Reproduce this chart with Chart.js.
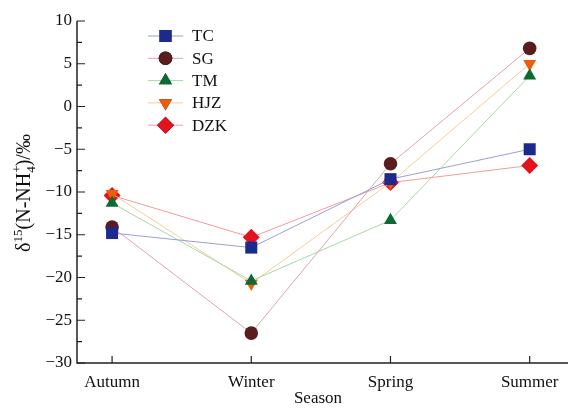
<!DOCTYPE html>
<html>
<head>
<meta charset="utf-8">
<script src="https://cdn.jsdelivr.net/npm/chart.js@4.4.0/dist/chart.umd.min.js"></script>
<style>
  html, body { margin: 0; padding: 0; background: #fff; overflow: hidden; }
  canvas { display: block; }
</style>
</head>
<body>
<canvas id="grafico" width="568" height="409"></canvas>
<script>
const estacoes = ["Autumn", "Winter", "Spring", "Summer"];
const serieTC = [-14.8, -16.5, -8.5, -5.0];
const serieSG = [-14.1, -26.5, -6.7, 6.8];
const serieTM = [-11.3, -20.4, -13.3, 3.6];
const serieHJZ = [-10.2, -20.7, -8.9, 5.0];
const serieDZK = [-10.4, -15.3, -8.9, -6.9];
const ticksY = [-30, -25, -20, -15, -10, -5, 0, 5, 10];

const FONTE = "Liberation Serif";

function serie(nome, valores, corLinha, corPonto, estilo, raio, rot) {
  return {
    label: nome,
    data: valores.map((v, i) => ({ x: i, y: v })),
    borderColor: corLinha,
    borderWidth: 1,
    backgroundColor: corPonto,
    pointBackgroundColor: corPonto,
    pointBorderColor: corPonto,
    pointBorderWidth: 0,
    pointStyle: estilo,
    pointRadius: raio,
    pointRotation: rot || 0,
    tension: 0
  };
}

const datasets = [
  serie("TC", serieTC, "#9a9ed6", "#1c2a8e", "rect", 8.5),
  serie("SG", serieSG, "#d9a6ae", "#5a1c1e", "circle", 6.8),
  serie("TM", serieTM, "#a6d8a8", "#0b6b32", "triangle", 7.5),
  serie("HJZ", serieHJZ, "#f8cc98", "#ee5c0e", "triangle", 7.5, 180),
  serie("DZK", serieDZK, "#f29aa0", "#e4121c", "rectRot", 8.5)
];

// eixos, ticks internos e legenda desenhados à mão
const eixosPlugin = {
  id: "eixos",
  afterDatasetsDraw(chart) {
    const ctx = chart.ctx;
    const xs = chart.scales.x, ys = chart.scales.y;
    const a = chart.chartArea;
    ctx.save();
    ctx.strokeStyle = "#222";
    ctx.lineWidth = 1.5;
    ctx.beginPath();
    ctx.moveTo(a.left, a.top);
    ctx.lineTo(a.left, a.bottom);
    ctx.lineTo(chart.width, a.bottom);
    ctx.stroke();
    ctx.lineWidth = 1.2;
    ctx.beginPath();
    for (let v = -30; v <= 10; v += 2.5) {
      const y = ys.getPixelForValue(v);
      const len = (v % 5 === 0) ? 8 : 5;
      ctx.moveTo(a.left, y);
      ctx.lineTo(a.left + len, y);
    }
    estacoes.forEach((_, i) => {
      const x = xs.getPixelForValue(i);
      ctx.moveTo(x, a.bottom);
      ctx.lineTo(x, a.bottom - 7);
    });
    ctx.stroke();

    // legenda
    let ly = 36;
    chart.data.datasets.forEach((ds) => {
      ctx.strokeStyle = ds.borderColor;
      ctx.lineWidth = 1;
      ctx.beginPath();
      ctx.moveTo(148, ly);
      ctx.lineTo(183, ly);
      ctx.stroke();
      Chart.helpers.drawPoint(ctx, {
        pointStyle: ds.pointStyle,
        rotation: ds.pointRotation,
        radius: ds.pointRadius,
        borderWidth: 0
      }, 165.5, ly);
      ctx.fillStyle = ds.pointBackgroundColor;
      ctx.fill();
      ctx.fillStyle = "#111";
      ctx.font = "17px '" + FONTE + "'";
      ctx.textBaseline = "middle";
      ctx.textAlign = "left";
      ctx.fillText(ds.label, 192, ly + 1);
      ly += 22.3;
    });

    // titulo do eixo y: δ15(N-NH4+)/‰
    ctx.translate(30, 193);
    ctx.rotate(-Math.PI / 2);
    ctx.fillStyle = "#111";
    ctx.textBaseline = "alphabetic";
    const partes = [
      ["δ", 20, 0], ["15", 13, -8], ["(N-NH", 20, 0], ["4", 13, 5], ["+", 13, -9, true], [")/‰", 20, 0]
    ];
    let total = 0;
    partes.forEach(p => { ctx.font = p[1] + "px '" + FONTE + "'"; if (!p[3]) total += ctx.measureText(p[0]).width; });
    let x = -total / 2;
    let ultimo = 0;
    partes.forEach(p => {
      ctx.font = p[1] + "px '" + FONTE + "'";
      const w = ctx.measureText(p[0]).width;
      if (p[3]) {
        ctx.fillText(p[0], x - ultimo, p[2]);
      } else {
        ctx.fillText(p[0], x, p[2]);
        x += w;
        ultimo = w;
      }
    });
    ctx.restore();
  }
};

new Chart(document.getElementById("grafico"), {
  type: "line",
  data: { datasets: datasets },
  options: {
    responsive: false,
    animation: false,
    layout: { padding: { top: 21, right: 0, left: 0, bottom: 0 } },
    plugins: {
      legend: { display: false },
      tooltip: { enabled: false }
    },
    scales: {
      x: {
        type: "linear",
        min: -0.252,
        max: 3.21,
        afterBuildTicks: s => { s.ticks = estacoes.map((_, i) => ({ value: i })); },
        afterFit: s => { s.height = 46; },
        grid: { display: false, drawTicks: false },
        border: { display: false },
        ticks: {
          callback: v => estacoes[v],
          color: "#111",
          font: { family: FONTE, size: 17 },
          padding: 9,
          maxRotation: 0
        },
        title: {
          display: true,
          text: "Season",
          color: "#111",
          font: { family: FONTE, size: 17 },
          padding: { top: -2, bottom: 0 }
        }
      },
      y: {
        min: -30,
        max: 10,
        afterBuildTicks: s => { s.ticks = ticksY.map(v => ({ value: v })); },
        afterFit: s => { s.width = 77; },
        grid: { display: false, drawTicks: false },
        border: { display: false },
        ticks: {
          callback: v => String(v).replace("-", "\u2212"),
          color: "#111",
          font: { family: FONTE, size: 17 },
          padding: 5
        }
      }
    }
  },
  plugins: [eixosPlugin]
});
</script>
</body>
</html>
